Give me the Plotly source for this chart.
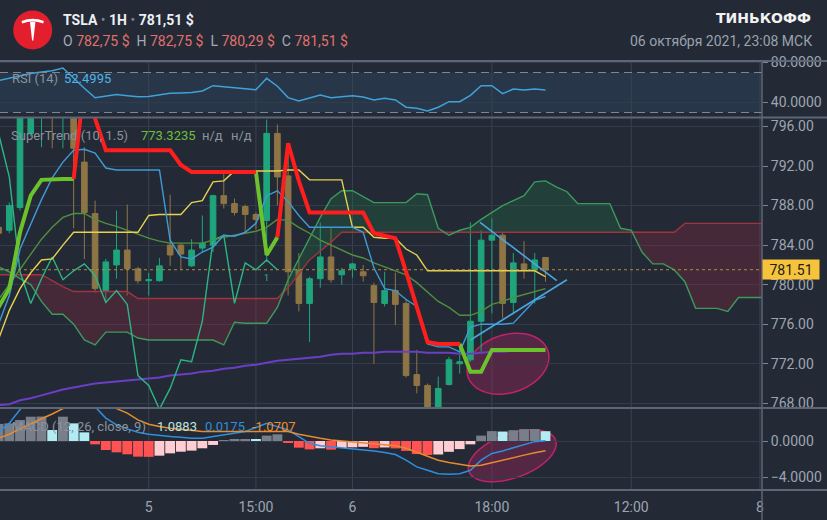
import numpy as np
import plotly.graph_objects as go

# ---------------- data ----------------
bar_index = list(range(-1, 51))
open_p = [785.8, 785.5, 787.8, 795.3, 798.5, 801.5, 799.0, 800.5, 792.4, 787.2,
          779.4, 782.0, 783.5, 781.6, 780.4, 780.4, 784.0, 784.0, 781.9, 783.7,
          784.0, 789.0, 788.2, 787.9, 787.1, 786.5, 795.3, 791.0, 781.5, 778.1,
          780.6, 782.8, 781.0, 781.6, 781.3, 779.9, 778.1, 779.4, 778.1, 770.9,
          769.8, 767.4, 769.9, 772.0, 772.4, 776.3, 784.5, 785.0, 778.2, 782.1,
          781.5, 782.75]
high_p = [786.0, 788.3, 798.5, 800.5, 801.0, 802.0, 801.5, 801.0, 793.9, 788.5,
          782.6, 787.5, 788.1, 781.8, 781.2, 782.7, 789.1, 784.1, 784.6, 787.0,
          789.1, 791.4, 788.7, 788.1, 787.3, 796.7, 796.2, 793.7, 783.2, 780.8,
          786.3, 785.7, 781.7, 782.2, 782.0, 780.2, 781.3, 781.2, 778.5, 773.4,
          770.0, 770.7, 772.7, 774.2, 786.3, 785.5, 786.7, 785.3, 783.2, 784.4,
          783.2, 782.75]
low_p = [785.0, 785.2, 787.5, 795.0, 793.9, 793.8, 793.8, 785.7, 782.6, 779.2,
         778.3, 780.6, 778.9, 780.1, 778.9, 780.3, 781.9, 781.5, 781.8, 783.3,
         783.3, 787.7, 787.0, 785.3, 785.6, 782.3, 788.0, 778.9, 777.3, 774.2,
         779.7, 780.2, 780.0, 780.7, 780.3, 772.0, 777.8, 775.9, 770.6, 769.0,
         767.0, 767.0, 769.8, 771.0, 772.2, 773.2, 777.1, 776.6, 777.0, 780.6,
         778.1, 780.29]
close_p = [785.2, 788.0, 797.8, 799.5, 800.5, 799.0, 801.0, 793.8, 787.3, 779.6,
           782.3, 783.5, 781.6, 780.4, 780.5, 781.9, 783.0, 783.1, 783.5, 784.2,
           789.0, 788.2, 787.3, 787.1, 786.6, 795.3, 790.9, 781.3, 778.1, 780.6,
           782.8, 780.5, 781.4, 782.1, 780.9, 778.2, 779.4, 778.0, 770.8, 769.8,
           767.4, 769.5, 772.4, 772.2, 776.3, 784.5, 785.0, 778.1, 782.2, 781.5,
           782.5, 781.51]
last_price = 781.51

tick_index = [13, 23, 32, 45, 58, 70]
tick_text = ["5", "15:00", "6", "18:00", "12:00", "8"]
price_ticks = [768, 772, 776, 780, 784, 788, 792, 796]
rsi_ticks = [40, 80]
macd_ticks = [-4, 0]

# Ichimoku
cloud_index = list(range(-1, 72))
span_a = [781.8, 781.3, 780.6, 780.0, 778.3, 777.0, 777.0, 776.0, 774.4, 773.9,
          775.2, 775.2, 775.2, 774.6, 774.4, 774.4, 774.4, 774.4, 774.4, 774.4,
          774.4, 773.9, 776.2, 776.1, 776.1, 776.1, 777.7, 780.5, 782.6, 784.7,
          786.8, 788.7, 789.5, 789.5, 788.9, 788.3, 788.3, 788.3, 788.3, 789.2,
          789.1, 785.7, 785.0, 785.5, 785.8, 786.6, 787.3, 788.0, 788.5, 789.0,
          790.4, 790.5, 789.9, 789.4, 788.2, 788.2, 788.2, 788.2, 785.7, 785.5,
          783.3, 782.1, 782.1, 781.5, 780.3, 777.6, 777.6, 777.6, 777.3, 778.7,
          778.7, 778.7, 778.7]
span_b = [781.0, 781.0, 781.0, 781.0, 781.0, 780.4, 779.8, 779.3, 779.3, 779.3,
          779.3, 779.3, 779.3, 778.6, 778.6, 778.6, 778.6, 778.6, 778.6, 778.6,
          778.6, 778.6, 778.6, 778.6, 778.6, 778.6, 778.6, 779.7, 781.1, 782.5,
          783.4, 784.3, 785.3, 785.3, 785.3, 785.3, 785.3, 785.3, 785.3, 785.3,
          785.3, 785.3, 785.3, 785.3, 785.3, 785.3, 785.3, 785.3, 785.3, 785.3,
          785.3, 785.3, 785.3, 785.3, 785.3, 785.3, 785.3, 785.3, 785.3, 785.3,
          785.3, 785.3, 785.3, 785.3, 786.2, 786.2, 786.2, 786.2, 786.2, 786.2,
          786.2, 786.2, 786.2]
tenkan = [776.0, 778.9, 783.6, 786.1, 788.6, 790.8, 792.4, 793.6, 793.7, 793.3,
          791.8, 791.6, 791.6, 791.6, 791.6, 791.6, 784.5, 782.8, 782.6, 783.3,
          783.8, 785.0, 784.9, 785.3, 786.2, 789.0, 789.5, 788.4, 787.0, 785.8,
          785.8, 785.8, 785.8, 785.8, 785.3, 781.7, 779.6, 779.4, 778.5, 777.8,
          774.0, 773.7, 773.7, 773.2, 775.7, 776.0, 776.0, 776.0, 776.1, 777.2,
          778.4, 778.8]
kijun = [774.5, 777.4, 779.6, 781.2, 782.5, 782.6, 784.0, 785.3, 785.3, 785.3,
         785.3, 785.3, 785.3, 785.3, 787.0, 787.1, 787.1, 787.1, 788.3, 788.5,
         790.4, 790.5, 791.5, 791.5, 791.5, 791.5, 791.5, 791.6, 791.6, 790.6,
         790.6, 790.6, 790.6, 785.8, 785.8, 784.8, 784.7, 784.7, 783.6, 783.0,
         781.4, 781.4, 781.4, 781.4, 781.4, 781.4, 781.4, 781.4, 781.4, 781.4,
         781.4, 780.8]
chikou_shift = 25

# moving averages
ma_fast = [778.5, 780.0, 781.5, 783.0, 784.6, 785.8, 786.8, 787.2, 787.2, 786.6,
           786.2, 785.9, 785.5, 785.1, 784.7, 784.4, 784.2, 784.2, 784.2, 784.2,
           784.5, 784.8, 785.0, 785.2, 785.4, 785.8, 786.6, 786.5, 785.8, 785.2,
           784.5, 784.0, 783.5, 783.0, 782.7, 782.2, 781.8, 781.4, 781.0, 780.2,
           779.2, 778.3, 777.7, 776.9, 776.9, 777.3, 778.0, 778.3, 778.7, 779.0,
           779.3, 779.6]
ma_slow = [767.8, 767.9, 768.3, 768.5, 768.8, 769.1, 769.4, 769.6, 769.8, 770.0,
           770.1, 770.2, 770.3, 770.4, 770.5, 770.6, 770.8, 770.9, 771.0, 771.2,
           771.3, 771.5, 771.6, 771.8, 771.9, 772.1, 772.3, 772.4, 772.5, 772.6,
           772.7, 772.9, 773.0, 773.0, 773.1, 773.1, 773.2, 773.2, 773.2, 773.2,
           773.1, 773.1, 773.1, 773.0, 773.0, 773.1, 773.2, 773.2, 773.3, 773.3,
           773.4, 773.4]

# SuperTrend (10, 1.5)
N = None
st_up = [777.7, 779.6, 785.3, 789.0, 790.6, 790.7, 790.7, 790.7, N, N,
         N, N, N, N, N, N, N, N, N, N,
         N, N, N, N, 791.4, 783.0, 784.8, N, N, N,
         N, N, N, N, N, N, N, N, N, N,
         N, N, N, 774.0, 771.2, 771.2, 773.4, 773.4, 773.4, 773.4,
         773.4, 773.4]
st_down = [N, N, N, N, N, N, N, 790.7, 800.5, 796.8,
           793.6, 793.6, 793.6, 793.6, 793.6, 793.6, 793.6, 792.1, 791.4, 791.4,
           791.4, 791.4, 791.4, 791.4, 791.4, N, 784.8, 794.3, 790.5, 787.3,
           787.3, 787.3, 787.3, 787.3, 787.3, 785.2, 784.9, 784.7, 781.3, 777.9,
           774.2, 774.0, 774.0, 774.0, N, N, N, N, N, N,
           N, N]

# RSI (14)
rsi = [62.0, 64.5, 67.0, 69.0, 70.5, 71.8, 74.5, 64.1, 54.3, 44.8,
       46.6, 48.0, 46.8, 45.8, 46.0, 47.7, 49.2, 49.6, 50.0, 51.5,
       56.8, 55.8, 54.7, 53.8, 52.8, 64.2, 56.3, 44.9, 41.6, 44.5,
       47.4, 44.8, 45.8, 46.8, 45.5, 42.5, 44.2, 42.6, 35.3, 34.2,
       31.6, 35.3, 40.8, 40.8, 47.2, 56.8, 56.8, 48.8, 53.4, 52.6,
       53.4, 52.5]

# MACD (12, 26, close, 9)
macd_hist = [1.9, 1.96, 2.33, 2.7, 2.72, 1.22, 2.7, 1.96, 0.96, -0.37,
             -1.0, -1.26, -1.48, -1.74, -1.76, -1.63, -1.37, -1.19, -1.07, -0.81,
             -0.44, 0.1, 0.15, 0.19, 0.17, 0.6, 0.74, -0.15, -0.74, -0.93,
             -0.81, -0.96, -0.78, -0.70, -0.65, -0.80, -0.72, -0.82, -1.1, -1.45,
             -1.55, -1.5, -1.2, -0.9, -0.37, 0.6, 1.1, 1.05, 1.2, 1.32,
             1.33, 1.0883]
macd_line = [1.0, 1.98, 3.5, 4.4, 5.0, 5.1, 5.3, 5.0, 4.4, 3.8,
             2.54, 1.79, 1.35, 0.97, 0.75, 0.6, 0.49, 0.41, 0.3, 0.3,
             0.49, 0.75, 0.86, 1.05, 1.5, 1.98, 1.6, 1.23, 0.49, -0.26,
             -0.52, -0.64, -0.75, -0.82, -1.0, -1.12, -1.27, -1.5, -2.13, -2.88,
             -3.25, -3.63, -3.7, -3.63, -3.25, -2.13, -1.38, -1.12, -0.75, -0.37,
             -0.07, 0.0175]
macd_signal = [0.3, 0.75, 1.35, 1.87, 2.47, 3.0, 3.6, 3.9, 4.0, 4.0,
               3.9, 3.6, 3.1, 2.35, 1.87, 1.6, 1.42, 1.27, 1.16, 1.05,
               1.05, 1.05, 1.05, 1.05, 1.07, 1.12, 1.12, 1.05, 0.75, 0.49,
               0.3, 0.11, 0.0, -0.07, -0.15, -0.26, -0.37, -0.52, -0.8, -1.25,
               -1.7, -2.13, -2.39, -2.62, -2.77, -2.69, -2.39, -2.13, -1.87, -1.57,
               -1.31, -1.0707]

# user drawings (index, price)
trend_desc_x = [43.9, 51.05]
trend_desc_y = [786.3, 780.4]
trend_asc_x = [43.0, 52.0]
trend_asc_y = [774.4, 780.5]
# ellipse drawings: (center index, center value, semi-axes px, tilt deg)
ellipse_main = (46.5, 772.0, 42, 29, 18)
ellipse_macd = (46.9, -1.64, 46, 22, 20)

# ---------------- geometry / style ----------------
BG = "#232a36"
AXC = "#9ea5b0"
GRID = "#323b49"
SEP = "#5d6676"
UP = "#1fa57c"
DN = "#8e7545"
FONT = "Roboto"

PW, FH = 762.0, 520.0
X_RANGE = (-0.867, 70.19)
Y_RSI = (61.0, 117.5)
Y_MAIN = (117.5, 408.0)
Y_MACD = (408.0, 490.0)
MAIN_RANGE = (767.52, 796.91)
RSI_RANGE = (25.0, 81.5)
MACD_RANGE = (-5.444, 3.667)


def paper_x(px):
    return px / PW


def paper_y(py):
    return 1.0 - py / FH


def to_px(xi, v, panel, rng):
    px = (xi - X_RANGE[0]) / (X_RANGE[1] - X_RANGE[0]) * PW
    top, bot = panel
    py = top + (rng[1] - v) / (rng[1] - rng[0]) * (bot - top)
    return px, py


def ellipse_path(spec, panel, rng, n=80):
    xi, v, a, b, deg = spec
    cx, cy = to_px(xi, v, panel, rng)
    th = np.radians(deg)
    t = np.linspace(0, 2 * np.pi, n, endpoint=False)
    xs = cx + a * np.cos(t) * np.cos(th) - b * np.sin(t) * np.sin(th)
    ys = cy - (a * np.cos(t) * np.sin(th) + b * np.sin(t) * np.cos(th))
    pts = [f"{paper_x(x):.5f},{paper_y(y):.5f}" for x, y in zip(xs, ys)]
    return "M" + " L".join(pts) + " Z"


def px_path(segs):
    out = []
    for cmd, pts in segs:
        out.append(cmd + " ".join(f"{paper_x(x):.5f},{paper_y(y):.5f}" for x, y in pts))
    return " ".join(out)


fig = go.Figure()

# ---- Ichimoku cloud fills ----
A = np.array(span_a)
B = np.array(span_b)
common = dict(mode="lines", hoverinfo="skip", xaxis="x", yaxis="y", showlegend=False)
fig.add_trace(go.Scatter(x=cloud_index, y=B, line=dict(width=0), **common))
fig.add_trace(go.Scatter(x=cloud_index, y=np.maximum(A, B), line=dict(width=0),
                         fill="tonexty", fillcolor="rgba(35,125,70,0.26)", **common))
fig.add_trace(go.Scatter(x=cloud_index, y=B, line=dict(width=0), **common))
fig.add_trace(go.Scatter(x=cloud_index, y=np.minimum(A, B), line=dict(width=0),
                         fill="tonexty", fillcolor="rgba(150,40,65,0.30)", **common))

# ---- candles ----
fig.add_trace(go.Candlestick(
    x=bar_index, open=open_p, high=high_p, low=low_p, close=close_p,
    increasing=dict(line=dict(color=UP, width=1), fillcolor=UP),
    decreasing=dict(line=dict(color=DN, width=1), fillcolor=DN),
    whiskerwidth=0, hoverinfo="skip", xaxis="x", yaxis="y", showlegend=False))

# ---- indicator lines on main panel ----
def line(x, y, color, width, **kw):
    fig.add_trace(go.Scatter(x=x, y=y, line=dict(color=color, width=width),
                             connectgaps=False, **common, **kw))

line(cloud_index, span_b, "#a3323f", 1.4)
line(cloud_index, span_a, "#3c9a5c", 1.4)
line(bar_index, ma_slow, "#6a3fc4", 2.0)
chikou_x = [i - chikou_shift for i in bar_index]
line(chikou_x, close_p, "#2db684", 1.4)
line(bar_index, ma_fast, "#4f8f3e", 1.4)
line(bar_index, kijun, "#e6d24e", 1.4)
line(bar_index, tenkan, "#3f9ad6", 1.4)
line(trend_desc_x, trend_desc_y, "#4aa6e0", 1.6)
line(trend_asc_x, trend_asc_y, "#4aa6e0", 1.6)
line(bar_index, st_up, "#6cc22a", 4)
line(bar_index, st_down, "#ff1e1e", 4)

# ---- RSI ----
fig.add_trace(go.Scatter(x=bar_index, y=rsi, mode="lines", line=dict(color="#3fa2da", width=1.5),
                         hoverinfo="skip", xaxis="x", yaxis="y2", showlegend=False))

# ---- MACD ----
bar_colors = []
for k, v in enumerate(macd_hist):
    prev = macd_hist[k - 1] if k > 0 else v - 0.01
    if v >= 0:
        bar_colors.append("#787e8a" if v > prev else "#b2ebf2")
    else:
        bar_colors.append("#ff5252" if v < prev else "#ffcdd2")
fig.add_trace(go.Bar(x=bar_index, y=macd_hist, marker=dict(color=bar_colors, line=dict(width=0)),
                     width=0.92, hoverinfo="skip", xaxis="x", yaxis="y3", showlegend=False))
fig.add_trace(go.Scatter(x=bar_index, y=macd_line, mode="lines", line=dict(color="#2f8fdc", width=1.5),
                         hoverinfo="skip", xaxis="x", yaxis="y3", showlegend=False))
fig.add_trace(go.Scatter(x=bar_index, y=macd_signal, mode="lines", line=dict(color="#e88b2e", width=1.5),
                         hoverinfo="skip", xaxis="x", yaxis="y3", showlegend=False))

# ---------------- shapes ----------------
shapes = []
# RSI band and levels
shapes.append(dict(type="rect", xref="paper", yref="y2", x0=0, x1=1, y0=30, y1=70,
                   fillcolor="rgba(70,140,190,0.13)", line=dict(width=0), layer="below"))
for lv in (70, 30):
    shapes.append(dict(type="line", xref="paper", yref="y2", x0=0, x1=1, y0=lv, y1=lv,
                       line=dict(color="#7d8695", width=1, dash="8px,5px")))
# vertical grid lines at time ticks
for t in tick_index:
    shapes.append(dict(type="line", xref="x", yref="paper", x0=t, x1=t,
                       y0=paper_y(Y_MACD[1]), y1=paper_y(Y_RSI[0]),
                       line=dict(color="#3a4352", width=1), layer="below"))
# current price dotted line
shapes.append(dict(type="line", xref="paper", yref="y", x0=0, x1=1, y0=last_price, y1=last_price,
                   line=dict(color="#b08c3e", width=1, dash="dot")))
# panel separators
for yy in (Y_RSI[0], Y_RSI[1], Y_MAIN[1], Y_MACD[1]):
    shapes.append(dict(type="line", xref="paper", yref="paper", x0=0, x1=827 / PW,
                       y0=paper_y(yy), y1=paper_y(yy), line=dict(color=SEP, width=2)))
shapes.append(dict(type="line", xref="paper", yref="paper", x0=1, x1=1,
                   y0=0, y1=paper_y(Y_RSI[0]), line=dict(color=SEP, width=1.5)))
# ellipse drawings (below the indicator lines)
shapes.append(dict(type="path", xref="paper", yref="paper", layer="below",
                   path=ellipse_path(ellipse_main, Y_MAIN, MAIN_RANGE),
                   fillcolor="rgba(165,35,95,0.38)", line=dict(color="#c2226a", width=1.5)))
shapes.append(dict(type="path", xref="paper", yref="paper", layer="below",
                   path=ellipse_path(ellipse_macd, Y_MACD, MACD_RANGE),
                   fillcolor="rgba(165,35,95,0.38)", line=dict(color="#c2226a", width=1.5)))
# Tesla logo
shapes.append(dict(type="circle", xref="paper", yref="paper",
                   x0=paper_x(13.2), x1=paper_x(52.2), y0=paper_y(49.5), y1=paper_y(10.5),
                   fillcolor="#e31e2d", line=dict(width=0)))
logo_top = [("M", [(21.5, 21.0)]), ("Q", [(32.7, 16.6), (43.9, 21.0)]), ("L", [(43.2, 23.4)]),
            ("Q", [(32.7, 19.6), (22.2, 23.4)]), ("Z", [])]
logo_stem = [("M", [(30.0, 22.2)]), ("Q", [(32.7, 21.5), (35.4, 22.2)]), ("L", [(33.3, 40.5)]),
             ("L", [(32.1, 40.5)]), ("Z", [])]
for seg in (logo_top, logo_stem):
    shapes.append(dict(type="path", xref="paper", yref="paper", path=px_path(seg),
                       fillcolor="white", line=dict(width=0)))

# ---------------- annotations ----------------
ann = []


def text(px, py, s, color, size=13, anchor="left", family=FONT):
    ann.append(dict(x=paper_x(px), y=paper_y(py), xref="paper", yref="paper", text=s,
                    showarrow=False, xanchor=anchor, yanchor="middle",
                    font=dict(family=family, size=size, color=color)))


dot = "<span style='color:#7b8491'>•</span>"
text(61, 20, f"<b>TSLA</b> {dot} <b>1H</b> {dot} <b>781,51 $</b>", "#eceff3", 14)
g = "#a3aab5"
r = "#e2716c"
line2 = (f"<span style='color:{g}'>O</span> <span style='color:{r}'>782,75 $</span>\u00a0\u00a0"
         f"<span style='color:{g}'>H</span> <span style='color:{r}'>782,75 $</span>\u00a0\u00a0"
         f"<span style='color:{g}'>L</span> <span style='color:{r}'>780,29 $</span>\u00a0\u00a0"
         f"<span style='color:{g}'>C</span> <span style='color:{r}'>781,51 $</span>")
text(61, 41, line2, g, 14)
text(813, 18.5, "<b>ТИНЬКОФФ</b>", "#f2f2f2", 14, "right", "DejaVu Sans")
text(814, 41, "06 октября 2021, 23:08 МСК", "#9aa2ad", 14, "right")

LEG = "#8a929d"
text(10, 78, "RSI (14)", LEG, 13)
text(62, 78, "52.4995", "#4fb5ea", 13)
text(9, 136, "SuperTrend (10, 1.5)", LEG, 13)
text(139, 136, "773.3235", "#6cbf3c", 13)
text(200, 136, "н/д", LEG, 13)
text(229, 136, "н/д", LEG, 13)
text(10, 426, "MACD (12, 26, close, 9)", LEG, 13)
text(155, 426, "1.0883", "#b9e2de", 13)
text(203, 426, "0.0175", "#2f8fdc", 13)
text(250, 426, "-1.0707", "#f08c2a", 13)

# price label
ann.append(dict(x=1.0, y=last_price, xref="paper", yref="y", text="781.51", showarrow=False,
                xanchor="left", yanchor="middle", bgcolor="#f7c33b", borderpad=2,
                width=52, height=15, font=dict(family=FONT, size=14, color="#1c1c1c")))
# small marker label
ann.append(dict(x=24, y=780.7, xref="x", yref="y", text="1", showarrow=False,
                font=dict(family=FONT, size=9, color="#2db684")))

# ---------------- layout ----------------
tickfont = dict(family=FONT, size=14, color=AXC)
yax_common = dict(side="right", anchor="x", zeroline=False, showline=False, ticks="outside",
                  ticklen=5, tickcolor="#7d8593", tickfont=tickfont, showgrid=True,
                  gridcolor=GRID, gridwidth=1, automargin=False, fixedrange=True)

fig.update_layout(
    width=827, height=520,
    margin=dict(l=0, r=65, t=0, b=0),
    paper_bgcolor=BG, plot_bgcolor="rgba(0,0,0,0)",
    showlegend=False, boxgap=0.25, hovermode=False,
    xaxis=dict(domain=[0, 1], range=list(X_RANGE), anchor="y3", tickmode="array",
               tickvals=tick_index, ticktext=tick_text, showgrid=False, zeroline=False,
               showline=False, ticks="", tickfont=tickfont, ticklabelstandoff=7,
               rangeslider=dict(visible=False), automargin=False, fixedrange=True),
    yaxis=dict(domain=[paper_y(Y_MAIN[1]), paper_y(Y_MAIN[0])], range=list(MAIN_RANGE),
               tickmode="array", tickvals=price_ticks, ticktext=[f"{v:.2f}" for v in price_ticks],
               **yax_common),
    yaxis2=dict(domain=[paper_y(Y_RSI[1]), paper_y(Y_RSI[0])], range=list(RSI_RANGE),
                tickmode="array", tickvals=rsi_ticks, ticktext=[f"{v:.4f}" for v in rsi_ticks],
                **yax_common),
    yaxis3=dict(domain=[paper_y(Y_MACD[1]), paper_y(Y_MACD[0])], range=list(MACD_RANGE),
                tickmode="array", tickvals=macd_ticks,
                ticktext=[f"{v:.4f}".replace("-", "\u2212") for v in macd_ticks], **yax_common),
    shapes=shapes,
    annotations=ann,
)

fig.write_html(
    "out.html",
    config={"displayModeBar": False},
    post_script="document.body.style.margin='0';document.body.style.padding='0';"
                "document.documentElement.style.background='" + BG + "';"
                "document.body.style.background='" + BG + "';",
)
